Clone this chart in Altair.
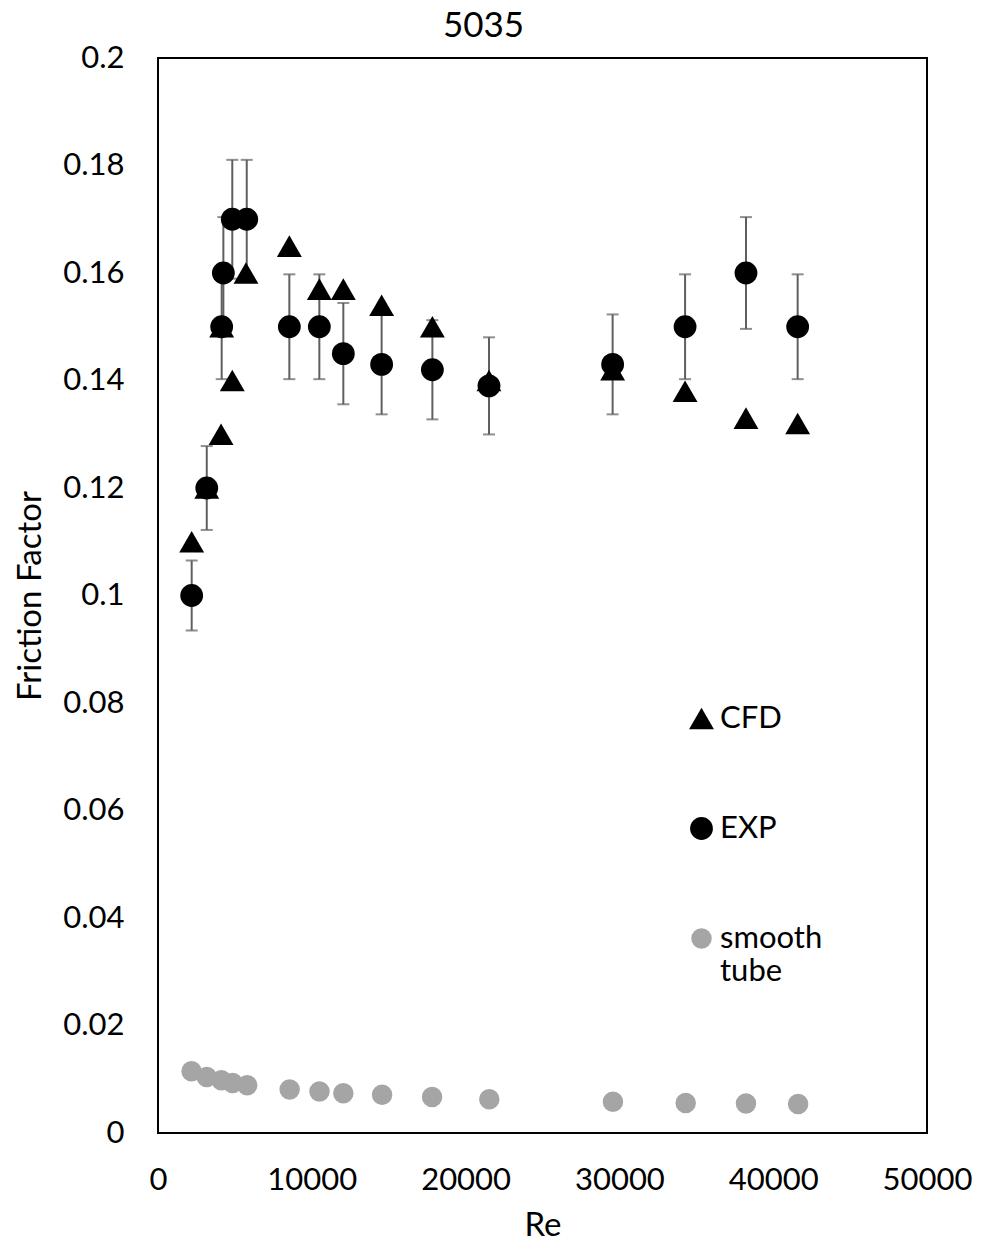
import altair as alt
import pandas as pd

# Friction factor vs Reynolds number for the 5035 tube
SERIES = ["CFD", "EXP", "smooth tube"]

RE_CFD = [2190, 3170, 4100, 4140, 4830, 5720, 8540, 10490, 12050, 14540,
          17840, 21520, 29560, 34270, 38230, 41590]
F_CFD = [0.110, 0.120, 0.130, 0.150, 0.140, 0.160, 0.165, 0.157, 0.157, 0.154,
         0.150, 0.140, 0.142, 0.138, 0.133, 0.132]

RE_EXP = [2190, 3170, 4140, 4250, 4830, 5770, 8540, 10490, 12050, 14540,
          17840, 21520, 29560, 34270, 38230, 41590]
F_EXP = [0.100, 0.120, 0.150, 0.160, 0.170, 0.170, 0.150, 0.150, 0.145, 0.143,
         0.142, 0.139, 0.143, 0.150, 0.160, 0.150]

RE_SMOOTH = [2180, 3170, 4120, 4850, 5800, 8560, 10500, 12050, 14570, 17820,
             21540, 29580, 34310, 38230, 41620]
F_SMOOTH = [0.0115, 0.0104, 0.0098, 0.0093, 0.0089, 0.0081, 0.0077, 0.0074,
            0.0071, 0.0067, 0.0063, 0.0058, 0.0056, 0.0055, 0.0054]

# experimental uncertainty, percent of the measured value
ERR_PCT = 6.5

X_TICKS = [0, 10000, 20000, 30000, 40000, 50000]
Y_TICKS = [0, 0.02, 0.04, 0.06, 0.08, 0.10, 0.12, 0.14, 0.16, 0.18, 0.20]

FONT = "Lato"
GRAY_BAR = "#5f5f5f"

rows = []
for name, res, fs in (("CFD", RE_CFD, F_CFD), ("EXP", RE_EXP, F_EXP),
                      ("smooth tube", RE_SMOOTH, F_SMOOTH)):
    for r, f in zip(res, fs):
        rows.append({"Re": r, "f": f, "series": name})
points = pd.DataFrame(rows)

err = pd.DataFrame({
    "Re": RE_EXP,
    "lo": [f * (1 - ERR_PCT / 100) for f in F_EXP],
    "hi": [f * (1 + ERR_PCT / 100) for f in F_EXP],
})

x_scale = alt.Scale(domain=[0, 50000], nice=False, zero=False)
y_scale = alt.Scale(domain=[0, 0.2], nice=False)

x_axis = alt.Axis(values=X_TICKS, format="d", labelPadding=32, titlePadding=14,
                  labelFlush=False)
y_axis = alt.Axis(values=Y_TICKS, labelPadding=34, titlePadding=15,
                  labelFlush=False,
                  labelExpr="datum.value == 0 ? '0' : format(datum.value, '.2~f')")


def xenc(field):
    return alt.X(f"{field}:Q", scale=x_scale, axis=x_axis, title="Re")


def yenc(field):
    return alt.Y(f"{field}:Q", scale=y_scale, axis=y_axis, title="Friction Factor")


bars = alt.Chart(err).mark_rule(color=GRAY_BAR, strokeWidth=2).encode(
    x=xenc("Re"), y=yenc("lo"), y2="hi:Q"
)
caps_lo = alt.Chart(err).mark_tick(
    orient="horizontal", size=12, thickness=2, color=GRAY_BAR
).encode(x=xenc("Re"), y=yenc("lo"))
caps_hi = alt.Chart(err).mark_tick(
    orient="horizontal", size=12, thickness=2, color=GRAY_BAR
).encode(x=xenc("Re"), y=yenc("hi"))

legend = alt.Legend(
    title=None,
    orient="none",
    legendX=528,
    legendY=645,
    direction="vertical",
    labelFont=FONT,
    labelFontSize=31,
    labelColor="black",
    labelOffset=3,
    rowPadding=78,
    symbolSize=520,
    symbolStrokeWidth=0,
    labelLimit=300,
    labelExpr="datum.label == 'smooth tube' ? ['smooth', 'tube'] : datum.label",
)

marks = alt.Chart(points).mark_point(filled=True, opacity=1, strokeWidth=0).encode(
    x=xenc("Re"),
    y=yenc("f"),
    shape=alt.Shape("series:N", scale=alt.Scale(
        domain=SERIES, range=["triangle-up", "circle", "circle"]), legend=legend),
    color=alt.Color("series:N", scale=alt.Scale(
        domain=SERIES, range=["#000000", "#000000", "#a5a5a5"]), legend=legend),
    size=alt.Size("series:N", scale=alt.Scale(
        domain=SERIES, range=[620, 420, 420]), legend=None),
)

chart = (
    alt.layer(bars, caps_lo, caps_hi, marks)
    .properties(
        width=769,
        height=1075,
        title=alt.TitleParams("5035", font=FONT, fontSize=35, fontWeight="normal",
                              color="black", anchor="middle", offset=-2, dx=-59),
        autosize=alt.AutoSizeParams(type="none"),
        padding={"left": 158, "top": 58, "right": 55, "bottom": 110},
    )
    .configure(background="white")
    .configure_view(stroke="black", strokeWidth=2)
    .configure_axis(
        labelFont=FONT, labelFontSize=31, labelColor="black",
        titleFont=FONT, titleFontSize=33, titleFontWeight="normal", titleColor="black",
        domain=False, ticks=False, grid=False,
    )
)

chart.save("out.html", embed_options={"renderer": "svg", "actions": False})
